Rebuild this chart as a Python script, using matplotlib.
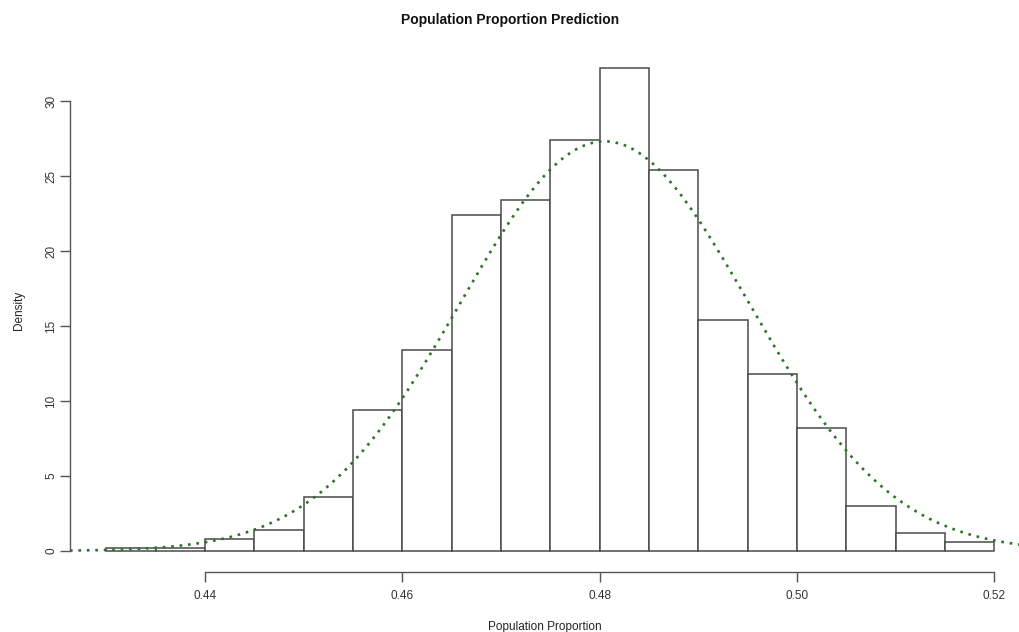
import matplotlib.pyplot as plt
import numpy as np

plt.rcParams['font.family'] = ['Liberation Sans', 'DejaVu Sans']

# histogram of simulated proportions (density scale), bin width 0.005
bin_left = [0.430, 0.435, 0.440, 0.445, 0.450, 0.455, 0.460, 0.465, 0.470,
            0.475, 0.480, 0.485, 0.490, 0.495, 0.500, 0.505, 0.510, 0.515]
density = [0.2, 0.2, 0.8, 1.4, 3.6, 9.4, 13.4, 22.4, 23.4, 27.4,
           32.2, 25.4, 15.4, 11.8, 8.2, 3.0, 1.2, 0.6]
bin_width = 0.005

# fitted normal curve
mu = 0.4805
sigma = 0.0146

x_ticks = [0.44, 0.46, 0.48, 0.50, 0.52]
y_ticks = [0, 5, 10, 15, 20, 25, 30]

fig = plt.figure(figsize=(10.2, 6.32), dpi=100)
ax = fig.add_axes([0.0686, 0.095, 0.9314, 0.829])

ax.bar(bin_left, density, width=bin_width, align='edge',
       facecolor='white', edgecolor='#4a4a4a', linewidth=1.1)

xs = np.linspace(0.4263, 0.5226, 400)
ys = np.exp(-(xs - mu) ** 2 / (2 * sigma ** 2)) / (sigma * np.sqrt(2 * np.pi))
ax.plot(xs, ys, color='#2a742a', linestyle=(0, (1, 2.2)), linewidth=1.9)

ax.set_xlim(0.4263, 0.5226)
ax.set_ylim(-1.4, 33.55)

for s in ['top', 'right']:
    ax.spines[s].set_visible(False)
ax.spines['left'].set_bounds(0, 30)
ax.spines['bottom'].set_bounds(0.44, 0.52)
for s in ['left', 'bottom']:
    ax.spines[s].set_color('#555555')
    ax.spines[s].set_linewidth(1.0)

ax.set_xticks(x_ticks)
ax.set_xticklabels(['0.44', '0.46', '0.48', '0.50', '0.52'])
ax.set_yticks(y_ticks)
ax.set_yticklabels([str(v) for v in y_ticks], rotation=90, va='center')
ax.tick_params(axis='both', length=7, width=1.0, color='#555555',
               labelsize=8.5, labelcolor='#333333')
ax.tick_params(axis='x', pad=6)
ax.tick_params(axis='y', pad=2)

ax.set_xlabel('Population Proportion', fontsize=8.5, color='#222222', labelpad=14)
ax.set_ylabel('Density', fontsize=8.5, color='#222222', labelpad=15)
fig.text(0.5, 0.968, 'Population Proportion Prediction', ha='center', va='center',
         fontsize=10, fontweight='bold', color='#111111')

fig.savefig('out.png', dpi=100)
